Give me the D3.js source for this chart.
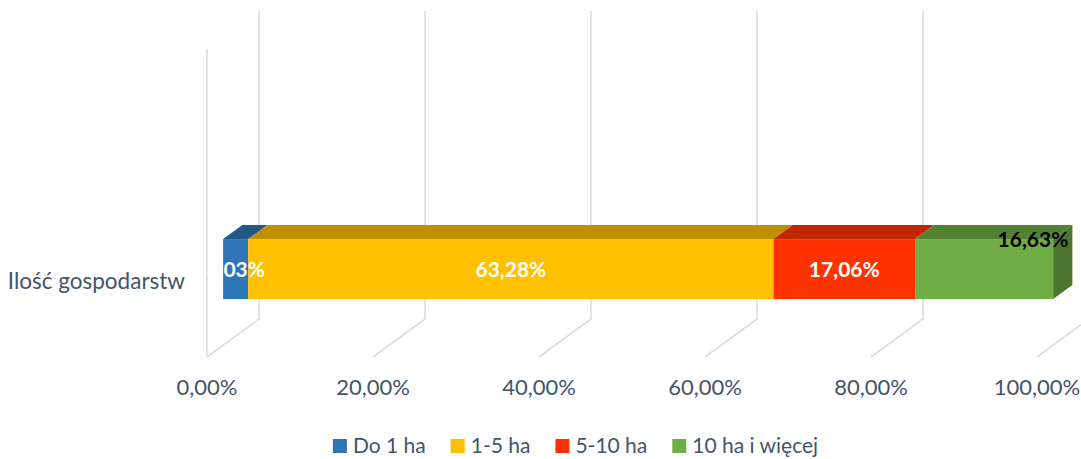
<!DOCTYPE html>
<html>
<head>
<meta charset="utf-8">
<script src="https://cdn.jsdelivr.net/npm/d3@7"></script>
<style>
  body { margin: 0; background: #fff; }
  text { font-family: Lato, "Noto Sans", sans-serif; }
</style>
</head>
<body>
<svg id="chart" width="1081" height="459"></svg>
<script>
// data
var categories = ['Ilość gospodarstw'];
var seriesNames = ['Do 1 ha', '1-5 ha', '5-10 ha', '10 ha i więcej'];
var seriesValues = [3.03, 63.28, 17.06, 16.63];
var seriesColors = ['#2E75B6', '#FFC000', '#FF3300', '#70AD47'];
var labelColors = ['#ffffff', '#ffffff', '#ffffff', '#000000'];
var tickValues = [0, 20, 40, 60, 80, 100];
var tickLabels = ['0,00%', '20,00%', '40,00%', '60,00%', '80,00%', '100,00%'];

var svg = d3.select('#chart');

// oblique 3d: value axis along x, depth goes up-right
var x = d3.scaleLinear().domain([0, 100]).range([207, 1037]);
var depthX = d3.scaleLinear().domain([0, 1]).range([0, 52]);
var depthY = d3.scaleLinear().domain([0, 1]).range([0, -38]);
var floorY = 357, wallTop = 49;
var y = d3.scaleBand().domain(categories).range([wallTop, floorY])
    .paddingInner(0.5).paddingOuter(1.033).align(0.814);

var d1 = 0.31, d2 = 0.68;
var gridColor = '#DADDE5';
var textColor = '#44546A';

function pt(v, d, yy) {
    return [x(v) + depthX(d), yy + depthY(d)];
}

// gridlines
var grid = svg.append('g')
    .attr('fill', 'none')
    .attr('stroke', gridColor)
    .attr('stroke-width', 1.6);

grid.append('line')
    .attr('x1', x(0)).attr('x2', x(0))
    .attr('y1', wallTop).attr('y2', floorY);

tickValues.forEach(function (v) {
    var f = pt(v, 0, floorY), b = pt(v, 1, floorY), t = pt(v, 1, wallTop);
    grid.append('path')
        .attr('d', d3.line()([f, b, t]));
});

// tick labels
svg.append('g').selectAll('text')
    .data(tickValues)
    .enter().append('text')
    .attr('x', function (d) { return x(d); })
    .attr('y', 395)
    .attr('text-anchor', 'middle')
    .attr('fill', textColor)
    .style('font-size', '22px')
    .text(function (d, i) { return tickLabels[i]; });

// category label
categories.forEach(function (c) {
    svg.append('text')
        .attr('x', 185)
        .attr('y', y(c) + y.bandwidth() / 2 + 8)
        .attr('text-anchor', 'end')
        .attr('fill', textColor)
        .style('font-size', '22.5px')
        .text(c);
});

// stacked segments
var stack = [];
var acc = 0;
seriesValues.forEach(function (v, i) {
    stack.push({ name: seriesNames[i], v0: acc, v1: acc + v, value: v, i: i });
    acc += v;
});

var bars = svg.append('g');
categories.forEach(function (c) {
    var yT = y(c), yB = y(c) + y.bandwidth();
    var line = d3.line();

    stack.forEach(function (s) {
        var col = d3.color(seriesColors[s.i]);
        var top = [pt(s.v0, d1, yT), pt(s.v1, d1, yT), pt(s.v1, d2, yT), pt(s.v0, d2, yT)];
        bars.append('path')
            .attr('d', line(top) + 'Z')
            .attr('fill', col.darker(0.8));
    });

    var last = stack[stack.length - 1];
    var side = [pt(last.v1, d1, yT), pt(last.v1, d2, yT), pt(last.v1, d2, yB), pt(last.v1, d1, yB)];
    bars.append('path')
        .attr('d', line(side) + 'Z')
        .attr('fill', d3.color(seriesColors[last.i]).darker(1.1));

    stack.forEach(function (s) {
        var a = pt(s.v0, d1, yT), b = pt(s.v1, d1, yB);
        bars.append('rect')
            .attr('x', a[0]).attr('y', a[1])
            .attr('width', b[0] - a[0]).attr('height', b[1] - a[1])
            .attr('fill', seriesColors[s.i]);
    });

    // data labels
    stack.forEach(function (s, k) {
        var a = pt(s.v0, d1, yT), b = pt(s.v1, d1, yB);
        var lbl = s.value.toFixed(2).replace('.', ',') + '%';
        var t = bars.append('text')
            .attr('fill', labelColors[s.i])
            .style('font-size', '21px')
            .style('font-weight', 'bold')
            .text(lbl);
        if (k === stack.length - 1) {
            var e = pt(s.v1, d2, yT);
            t.attr('x', e[0] - 4).attr('y', a[1] + 8).attr('text-anchor', 'end');
        } else {
            t.attr('x', (a[0] + b[0]) / 2).attr('y', (a[1] + b[1]) / 2 + 8)
                .attr('text-anchor', 'middle');
        }
    });
});

// legend
var legend = svg.append('g');
var lx = 0;
seriesNames.forEach(function (n, i) {
    var g = legend.append('g');
    g.append('rect')
        .attr('x', 0).attr('y', 439)
        .attr('width', 14).attr('height', 14)
        .attr('fill', seriesColors[i]);
    var t = g.append('text')
        .attr('x', 20).attr('y', 453)
        .attr('fill', textColor)
        .style('font-size', '21px')
        .text(n);
    var w = 20 + t.node().getComputedTextLength();
    g.attr('transform', 'translate(' + lx + ',0)');
    lx += w + 25;
});
var legendW = lx - 25;
legend.attr('transform', 'translate(' + (575.5 - legendW / 2) + ',0)');
</script>
</body>
</html>
